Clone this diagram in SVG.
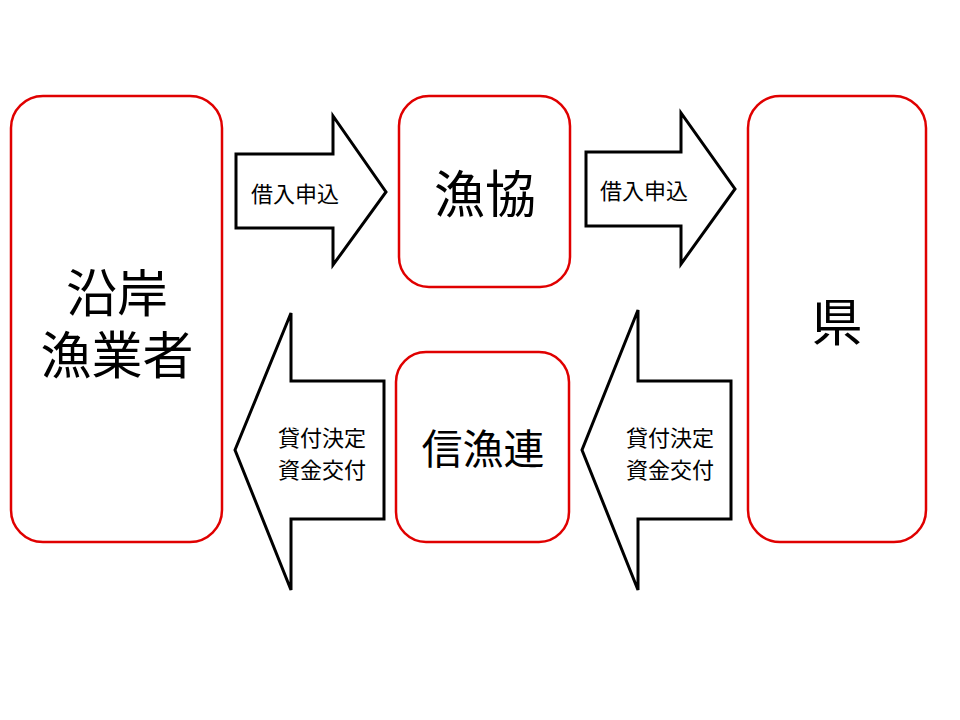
<svg xmlns="http://www.w3.org/2000/svg" width="960" height="720" viewBox="0 0 960 720">
<style>
.box{fill:#fff;stroke:#e00000;stroke-width:2.5}
.arr{fill:#fff;stroke:#000;stroke-width:3;stroke-linejoin:miter}
text{font-family:"Noto Sans CJK JP","Noto Sans CJK SC",sans-serif;fill:#000;text-anchor:middle;dominant-baseline:central}
.big{font-size:51px}
.mid{font-size:41px}
.small{font-size:22px}
</style>
<rect width="960" height="720" fill="#fff"/>
<g id="connectors">
<g id="arrow1"><polygon class="arr" points="236,154 333,154 333,116 386,192 333,265 333,228 236,228"/><text class="small" x="295" y="192">借入申込</text></g>
<g id="arrow2"><polygon class="arr" points="586,152 681,152 681,113 735,189 681,264 681,226 586,226"/><text class="small" x="644" y="189">借入申込</text></g>
<g id="arrow3"><polygon class="arr" points="384,381 291,381 291,313 235,450 291,590 291,519 384,519"/><text class="small"><tspan x="322" y="436">貸付決定</tspan><tspan x="322" y="468">資金交付</tspan></text></g>
<g id="arrow4"><polygon class="arr" points="731,381 638,381 638,310 582,450 638,590 638,519 731,519"/><text class="small"><tspan x="670" y="436">貸付決定</tspan><tspan x="670" y="468">資金交付</tspan></text></g>
</g>
<g id="node-engan"><rect class="box" x="11" y="96" width="211" height="446" rx="32"/><text class="big"><tspan x="117" y="290">沿岸</tspan><tspan x="117" y="352">漁業者</tspan></text></g>
<g id="node-gyokyo"><rect class="box" x="399" y="96" width="171" height="191" rx="30"/><text class="big" x="485" y="191">漁協</text></g>
<g id="node-ken"><rect class="box" x="748" y="96" width="178" height="446" rx="32"/><text class="big" x="837" y="319">県</text></g>
<g id="node-shingyoren"><rect class="box" x="396" y="352" width="173" height="190" rx="30"/><text class="mid" x="483" y="446">信漁連</text></g>
</svg>
